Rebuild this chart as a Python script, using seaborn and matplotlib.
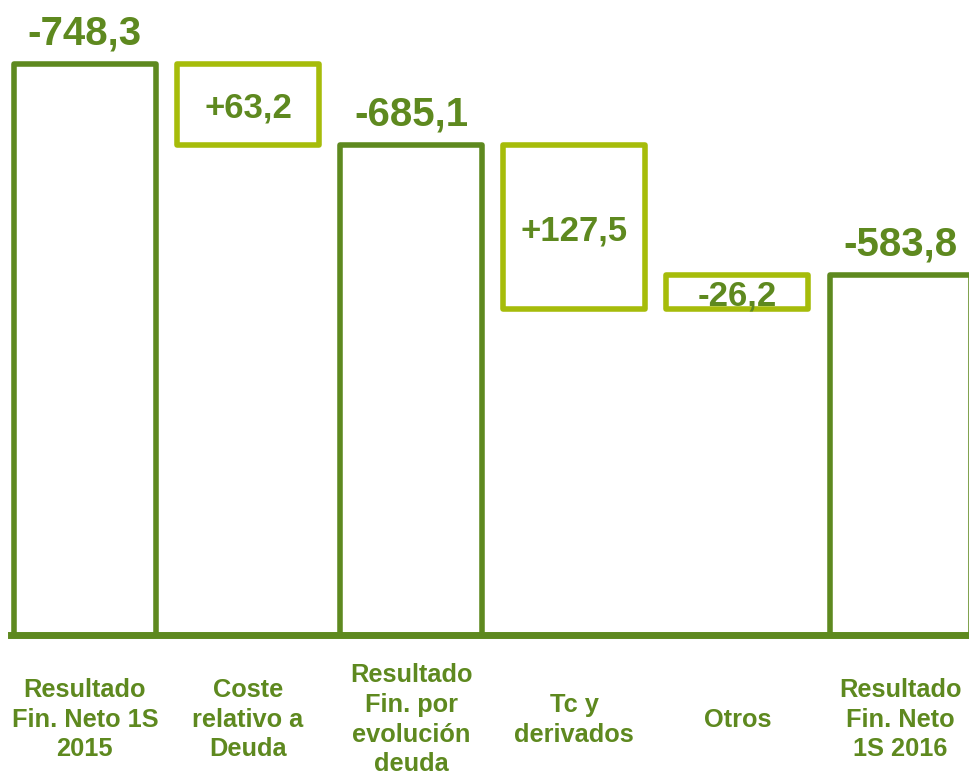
import numpy as np
import pandas as pd
import matplotlib
matplotlib.use("Agg")
import matplotlib.pyplot as plt
import seaborn as sns

# data (millones de euros)
categories = ["Resultado\nFin. Neto 1S\n2015", "Coste\nrelativo a\nDeuda",
              "Resultado\nFin. por\nevolución\ndeuda", "Tc y\nderivados",
              "Otros", "Resultado\nFin. Neto\n1S 2016"]
values = [-748.3, 63.2, -685.1, 127.5, -26.2, -583.8]
is_total = [True, False, True, False, False, True]

dark_green = "#5E891F"
light_green = "#A6BC0A"

# waterfall on magnitude of the (negative) result
tops, bottoms = [], []
level = 0.0
for v, tot in zip(values, is_total):
    if tot:
        level = abs(v)
        tops.append(level)
        bottoms.append(0.0)
    else:
        new_level = level - v
        tops.append(max(level, new_level))
        bottoms.append(min(level, new_level))
        level = new_level

df = pd.DataFrame({"cat": categories,
                   "height": np.array(tops) - np.array(bottoms),
                   "bottom": bottoms})

sns.set_style("white")
plt.rcParams["font.family"] = ["Liberation Sans", "DejaVu Sans"]

fig = plt.figure(figsize=(9.69, 7.73), dpi=100)
ax = fig.add_axes([0, 138 / 773, 1, 635 / 773])

sns.barplot(data=df, x="cat", y="height", order=categories, color="white",
            width=0.87, bottom=df["bottom"].values, linewidth=4, ax=ax)

for p, tot in zip(ax.patches, is_total):
    p.set_edgecolor(dark_green if tot else light_green)
    p.set_facecolor("white")
    p.set_joinstyle("round")

# value labels
for i, (v, tot) in enumerate(zip(values, is_total)):
    txt = f"{v:.1f}".replace(".", ",") if tot else f"{v:+.1f}".replace(".", ",")
    if tot:
        ax.annotate(txt, (i, tops[i]), xytext=(0, 25), textcoords="offset points",
                    ha="center", va="center_baseline", fontsize=29, fontweight="bold",
                    color=dark_green)
    else:
        ax.text(i, (tops[i] + bottoms[i]) / 2, txt, ha="center", va="center_baseline",
                fontsize=25, fontweight="bold", color=dark_green)

ax.set_xlim(-0.52, 5.42)
ax.set_ylim(304, 798)
ax.set_xlabel("")
ax.set_ylabel("")
ax.set_yticks([])
ax.set_xticks(range(len(categories)))
ax.set_xticklabels(categories, fontsize=18.3, fontweight="bold", color=dark_green,
                   va="center", linespacing=1.3)
ax.tick_params(axis="x", length=0, pad=61)

for s in ["top", "left", "right"]:
    ax.spines[s].set_visible(False)
ax.spines["bottom"].set_color(dark_green)
ax.spines["bottom"].set_linewidth(5)
ax.spines["bottom"].set_bounds(-0.45, 5.42)

fig.savefig("out.png", dpi=100, facecolor="white")
